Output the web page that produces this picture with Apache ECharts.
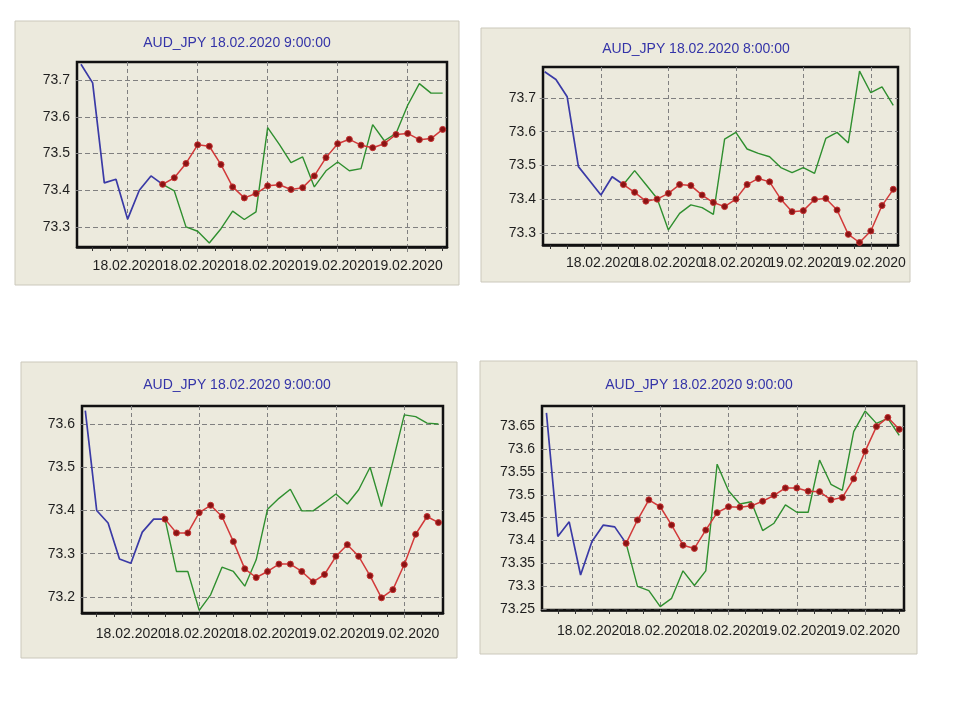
<!DOCTYPE html>
<html>
<head>
<meta charset="utf-8">
<script src="https://cdn.jsdelivr.net/npm/echarts@6/dist/echarts.min.js"></script>
<style>
  html, body { margin: 0; padding: 0; background: #ffffff; }
  #chart { width: 960px; height: 720px; }
</style>
</head>
<body>
<div id="chart"></div>
<script>
// ---------------- DATA ----------------
const titles = [
  'AUD_JPY 18.02.2020 9:00:00',
  'AUD_JPY 18.02.2020 8:00:00',
  'AUD_JPY 18.02.2020 9:00:00',
  'AUD_JPY 18.02.2020 9:00:00'
];
const xLabels = ['18.02.2020', '18.02.2020', '18.02.2020', '19.02.2020', '19.02.2020'];
const majorIdx1 = [4, 10, 16, 22, 28];
const majorIdx2 = [5, 11, 17, 23, 29];
const majorIdx3 = [4, 10, 16, 22, 28];
const majorIdx4 = [4, 10, 16, 22, 28];

const yTicks1 = [73.3, 73.4, 73.5, 73.6, 73.7];
const yTicks2 = [73.3, 73.4, 73.5, 73.6, 73.7];
const yTicks3 = [73.2, 73.3, 73.4, 73.5, 73.6];
const yTicks4 = [73.25, 73.3, 73.35, 73.4, 73.45, 73.5, 73.55, 73.6, 73.65];

// history (blue) from point 0 to 7; forecasts (green, red) from point 7 to 31
const forecastStart = 7;

const blue1 = [73.744, 73.693, 73.42, 73.43, 73.321, 73.40, 73.439, 73.416];
const green1 = [73.416, 73.398, 73.30, 73.288, 73.256, 73.295, 73.343, 73.32, 73.341, 73.571,
  73.525, 73.475, 73.491, 73.409, 73.453, 73.477, 73.453, 73.459, 73.579, 73.535,
  73.555, 73.632, 73.691, 73.665, 73.665];
const red1 = [73.416, 73.434, 73.473, 73.524, 73.52, 73.47, 73.409, 73.379, 73.391, 73.412,
  73.415, 73.402, 73.407, 73.439, 73.489, 73.527, 73.539, 73.523, 73.516, 73.527,
  73.552, 73.555, 73.538, 73.541, 73.566];

const blue2 = [73.777, 73.754, 73.703, 73.497, 73.455, 73.413, 73.467, 73.444];
const green2 = [73.444, 73.485, 73.444, 73.403, 73.31, 73.359, 73.384, 73.376, 73.356, 73.578,
  73.598, 73.549, 73.536, 73.526, 73.494, 73.479, 73.494, 73.477, 73.58, 73.598,
  73.567, 73.779, 73.715, 73.732, 73.678];
const red2 = [73.444, 73.421, 73.395, 73.401, 73.418, 73.444, 73.441, 73.413, 73.391, 73.379,
  73.401, 73.444, 73.462, 73.452, 73.401, 73.364, 73.367, 73.40, 73.403, 73.369,
  73.297, 73.273, 73.307, 73.382, 73.43];

const blue3 = [73.631, 73.40, 73.371, 73.288, 73.278, 73.35, 73.38, 73.38];
const green3 = [73.38, 73.259, 73.259, 73.169, 73.205, 73.269, 73.259, 73.225, 73.286, 73.403,
  73.428, 73.449, 73.399, 73.399, 73.418, 73.438, 73.415, 73.448, 73.50, 73.409,
  73.513, 73.621, 73.617, 73.602, 73.60];
const red3 = [73.38, 73.348, 73.348, 73.395, 73.412, 73.386, 73.328, 73.265, 73.245, 73.259,
  73.276, 73.276, 73.259, 73.235, 73.252, 73.294, 73.321, 73.294, 73.249, 73.198,
  73.217, 73.275, 73.345, 73.386, 73.372];

const blue4 = [73.679, 73.409, 73.441, 73.325, 73.398, 73.434, 73.43, 73.394];
const green4 = [73.394, 73.30, 73.291, 73.256, 73.274, 73.334, 73.302, 73.334, 73.567, 73.509,
  73.48, 73.485, 73.422, 73.438, 73.478, 73.462, 73.462, 73.576, 73.523, 73.51,
  73.638, 73.683, 73.656, 73.667, 73.63];
const red4 = [73.394, 73.445, 73.489, 73.474, 73.434, 73.39, 73.383, 73.423, 73.461, 73.474,
  73.473, 73.476, 73.486, 73.499, 73.515, 73.515, 73.508, 73.507, 73.489, 73.494,
  73.535, 73.595, 73.649, 73.669, 73.643];

// ---------------- LAYOUT ----------------
const panels = [
  { rect: [15, 21, 444, 264], grid: [77, 62, 370, 185], x: [-0.34, 31.37], y: [73.245, 73.75],
    title: [237, 43], labelMargin: 12, majors: majorIdx1, yTicks: yTicks1,
    blue: blue1, green: green1, red: red1 },
  { rect: [481, 28, 429, 254], grid: [543, 67, 355, 178], x: [-0.15, 31.42], y: [73.2656, 73.791],
    title: [696, 49], labelMargin: 11, majors: majorIdx2, yTicks: yTicks2,
    blue: blue2, green: green2, red: red2 },
  { rect: [21, 362, 436, 296], grid: [82, 406, 361, 207], x: [-0.29, 31.4], y: [73.163, 73.6415],
    title: [237, 385], labelMargin: 14, majors: majorIdx3, yTicks: yTicks3,
    blue: blue3, green: green3, red: red3 },
  { rect: [480, 361, 437, 293], grid: [542, 406, 362, 204], x: [-0.39, 31.42], y: [73.2485, 73.694],
    title: [699, 385], labelMargin: 14, majors: majorIdx4, yTicks: yTicks4,
    blue: blue4, green: green4, red: red4 }
];

const FONT = '"Liberation Sans", Arial, Helvetica, sans-serif';
const PANEL_BG = '#ECEADD';
const TEXT = '#1e1e1e';
const GRID_LINE = '#808080';

function toPairs(arr, offset) {
  return arr.map((v, i) => [i + offset, v]);
}
function minorTicks(majors, min, max) {
  const step = 1.5;
  let s = majors[0];
  while (s - step >= min) s -= step;
  const out = [];
  for (let v = s; v <= max + 1e-9; v += step) out.push(+v.toFixed(3));
  return out;
}
function fmtY(v) { return String(+(+v).toFixed(2)); }

const grid = [], xAxis = [], yAxis = [], series = [], graphic = [];
let xCount = 0;

panels.forEach((p, k) => {
  graphic.push({
    type: 'rect', z: -10, silent: true,
    shape: { x: p.rect[0], y: p.rect[1], width: p.rect[2], height: p.rect[3] },
    style: { fill: PANEL_BG, stroke: '#cbc8bb', lineWidth: 1 }
  });
  graphic.push({
    type: 'text', z: 10, silent: true,
    style: {
      x: p.title[0], y: p.title[1], text: titles[k], align: 'center', verticalAlign: 'middle',
      fill: '#3434a8', font: '14px ' + FONT
    }
  });

  grid.push({
    left: p.grid[0], top: p.grid[1], width: p.grid[2], height: p.grid[3],
    show: true, backgroundColor: 'transparent', borderColor: '#111111', borderWidth: 2.5
  });

  const majors = p.majors;
  const seriesAxis = xCount;
  // axis with minor ticks (used by series)
  xAxis.push({
    type: 'value', gridIndex: k, min: p.x[0], max: p.x[1], position: 'bottom',
    axisLine: { show: true, onZero: false, lineStyle: { color: '#111111', width: 2.5 } },
    axisTick: { show: true, inside: false, length: 4, customValues: minorTicks(majors, p.x[0], p.x[1]),
      lineStyle: { color: '#333333', width: 1 } },
    axisLabel: { show: false },
    splitLine: { show: false }
  });
  xCount++;
  // dashed vertical grid lines at the date marks
  xAxis.push({
    type: 'value', gridIndex: k, min: p.x[0], max: p.x[1], position: 'bottom',
    axisLine: { show: false },
    axisTick: { show: true, inside: false, length: 5, customValues: majors,
      lineStyle: { color: GRID_LINE, width: 1 } },
    axisLabel: { show: false },
    splitLine: { show: true, lineStyle: { color: GRID_LINE, type: [4, 3], width: 1 } }
  });
  xCount++;
  // date labels: split in two axes (alternating) so none get hidden as overlapping
  [0, 1].forEach((par) => {
    const vals = majors.filter((m, i) => i % 2 === par);
    xAxis.push({
      type: 'value', gridIndex: k, min: p.x[0], max: p.x[1], position: 'bottom',
      axisLine: { show: false },
      axisTick: { show: false, customValues: vals },
      axisLabel: {
        show: true, customValues: vals, margin: p.labelMargin, hideOverlap: false,
        showMinLabel: true, showMaxLabel: true,
        color: TEXT, fontSize: 14, fontFamily: FONT,
        formatter: (v) => xLabels[majors.indexOf(Math.round(v))] || ''
      },
      splitLine: { show: false }
    });
    xCount++;
  });

  yAxis.push({
    type: 'value', gridIndex: k, min: p.y[0], max: p.y[1],
    axisLine: { show: false },
    axisTick: { show: true, inside: false, length: 5, customValues: p.yTicks,
      lineStyle: { color: GRID_LINE, width: 1 } },
    axisLabel: { show: true, customValues: p.yTicks, margin: 7, color: TEXT, fontSize: 14,
      fontFamily: FONT, formatter: fmtY },
    splitLine: { show: true, lineStyle: { color: GRID_LINE, type: [5, 3], width: 1 } }
  });

  series.push({
    type: 'line', xAxisIndex: seriesAxis, yAxisIndex: k, data: toPairs(p.blue, 0),
    showSymbol: false, symbol: 'none', lineStyle: { color: '#3a3aa6', width: 1.7 }, z: 3
  });
  series.push({
    type: 'line', xAxisIndex: seriesAxis, yAxisIndex: k, data: toPairs(p.green, forecastStart),
    showSymbol: false, symbol: 'none', lineStyle: { color: '#2f8f2f', width: 1.4 }, z: 3
  });
  series.push({
    type: 'line', xAxisIndex: seriesAxis, yAxisIndex: k, data: toPairs(p.red, forecastStart),
    symbol: 'circle', symbolSize: 6, showSymbol: true,
    lineStyle: { color: '#d23a3a', width: 1.5 },
    itemStyle: { color: '#8a1414', borderColor: '#c43030', borderWidth: 1 }, z: 4
  });
});

const chart = echarts.init(document.getElementById('chart'), null, { renderer: 'canvas' });
chart.setOption({
  animation: false,
  backgroundColor: '#ffffff',
  textStyle: { fontFamily: FONT },
  graphic: graphic,
  grid: grid,
  xAxis: xAxis,
  yAxis: yAxis,
  series: series
});
</script>
</body>
</html>
